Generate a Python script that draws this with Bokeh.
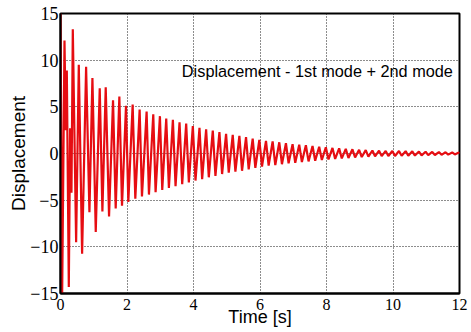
from bokeh.plotting import figure
from bokeh.models import Range1d, FixedTicker, Label
from bokeh.embed import file_html
from bokeh.resources import INLINE

# ---- data ----
x_ticks = [0, 2, 4, 6, 8, 10, 12]
x_tick_labels = ["0", "2", "4", "6", "8", "10", "12"]
y_ticks = [-15, -10, -5, 0, 5, 10, 15]
y_tick_labels = ["\u221215", "\u221210", "\u22125", "0", "5", "10", "15"]
x_title = "Time [s]"
y_title = "Displacement"

# successive turning points (peaks / troughs) of the displacement trace
time_s = [
    0.00, 0.05, 0.12, 0.16, 0.19, 0.25, 0.29, 0.33, 0.37, 0.47,
    0.55, 0.65, 0.77, 0.87, 0.96, 1.06, 1.18, 1.26, 1.36, 1.46,
    1.58, 1.66, 1.77, 1.85, 1.97, 2.04, 2.17, 2.25, 2.38, 2.45,
    2.59, 2.66, 2.79, 2.86, 2.99, 3.06, 3.18, 3.26, 3.38, 3.46,
    3.58, 3.66, 3.78, 3.86, 3.98, 4.06, 4.18, 4.26, 4.38, 4.46,
    4.58, 4.66, 4.78, 4.86, 4.98, 5.06, 5.18, 5.26, 5.38, 5.46,
    5.58, 5.66, 5.78, 5.86, 5.98, 6.06, 6.18, 6.26, 6.38, 6.46,
    6.58, 6.66, 6.78, 6.86, 6.98, 7.06, 7.18, 7.26, 7.38, 7.46,
    7.58, 7.66, 7.78, 7.86, 7.98, 8.06, 8.18, 8.26, 8.38, 8.46,
    8.58, 8.66, 8.78, 8.86, 8.98, 9.06, 9.18, 9.26, 9.38, 9.46,
    9.58, 9.66, 9.78, 9.86, 9.98, 10.06, 10.18, 10.26, 10.38, 10.46,
    10.58, 10.66, 10.78, 10.86, 10.98, 11.06, 11.18, 11.26, 11.38, 11.46,
    11.58, 11.66, 11.78, 11.86, 11.98, 12.00,
]
displacement = [
    15.0, -15.0, 12.1, 2.5, 8.9, -14.3, 2.7, -4.2, 13.3, -9.5,
    9.5, -10.75, 9.3, -6.3, 8.1, -8.4, 7.0, -6.2, 7.1, -6.75,
    5.7, -5.9, 6.1, -5.6, 5.1, -5.2, 5.25, -4.85, 4.7, -4.6,
    4.5, -4.4, 4.2, -4.15, 4.0, -3.9, 3.75, -3.7, 3.6, -3.5,
    3.35, -3.3, 3.2, -3.1, 2.95, -2.9, 2.75, -2.75, 2.6, -2.55,
    2.45, -2.4, 2.3, -2.2, 2.1, -2.05, 2.0, -1.95, 1.9, -1.85,
    1.75, -1.7, 1.6, -1.55, 1.45, -1.4, 1.35, -1.3, 1.3, -1.25,
    1.2, -1.15, 1.1, -1.05, 1.0, -1.0, 0.95, -0.92, 0.88, -0.85,
    0.8, -0.78, 0.72, -0.7, 0.66, -0.64, 0.6, -0.58, 0.55, -0.52,
    0.5, -0.48, 0.45, -0.43, 0.4, -0.38, 0.36, -0.34, 0.32, -0.3,
    0.3, -0.28, 0.28, -0.27, 0.27, -0.26, 0.26, -0.25, 0.25, -0.24,
    0.23, -0.22, 0.21, -0.2, 0.19, -0.18, 0.17, -0.16, 0.15, -0.14,
    0.13, -0.12, 0.11, -0.1, 0.1, 0.0,
]
annotation_text = "Displacement - 1st mode + 2nd mode"
annotation_pos = (3.65, 8.8)

SANS = "Liberation Sans"
TICK_FONT = "Liberation Serif, DejaVu Serif, Liberation Sans"

# ---- figure ----
p = figure(
    width=471, height=332,
    output_backend="svg", toolbar_location=None,
    x_range=Range1d(0, 12), y_range=Range1d(-15, 15),
    min_border_left=60, min_border_top=13, min_border_right=12, min_border_bottom=39,
    background_fill_color="white", border_fill_color="white",
)

p.line(time_s, displacement, line_color="#e60d12", line_width=2.2)

p.outline_line_color = "black"
p.outline_line_width = 2
p.outline_line_alpha = 1

for ax, ticks, labels in ((p.xaxis[0], x_ticks, x_tick_labels), (p.yaxis[0], y_ticks, y_tick_labels)):
    ax.ticker = FixedTicker(ticks=ticks)
    ax.major_label_overrides = {t: l for t, l in zip(ticks, labels)}
    ax.minor_tick_line_color = None
    ax.major_tick_in = 0
    ax.major_tick_out = 0
    ax.axis_line_width = 2
    ax.axis_line_color = "black"
    ax.major_label_text_color = "black"
    ax.major_label_text_font = TICK_FONT
    ax.axis_label_text_font = SANS
    ax.axis_label_text_font_style = "normal"
    ax.axis_label_text_color = "black"

p.xaxis.axis_label = x_title
p.xaxis.major_label_text_font_size = "16px"
p.xaxis.major_label_standoff = 5
p.xaxis.axis_label_text_font_size = "18px"
p.xaxis.axis_label_standoff = -6

p.yaxis.axis_label = y_title
p.yaxis.major_label_text_font_size = "18px"
p.yaxis.major_label_standoff = 2
p.yaxis.axis_label_text_font_size = "19px"
p.yaxis.axis_label_standoff = -2

p.xgrid.ticker = FixedTicker(ticks=x_ticks)
p.ygrid.ticker = FixedTicker(ticks=y_ticks)
for g in (p.xgrid[0], p.ygrid[0]):
    g.grid_line_color = "#1a1a1a"
    g.grid_line_dash = "1 2"
    g.grid_line_width = 1
    g.grid_line_alpha = 1

p.add_layout(Label(x=annotation_pos[0], y=annotation_pos[1], text=annotation_text,
                   text_font=SANS, text_font_size="16.3px",
                   text_baseline="middle", text_color="black"))

open("out.html", "w").write(file_html(p, INLINE))
